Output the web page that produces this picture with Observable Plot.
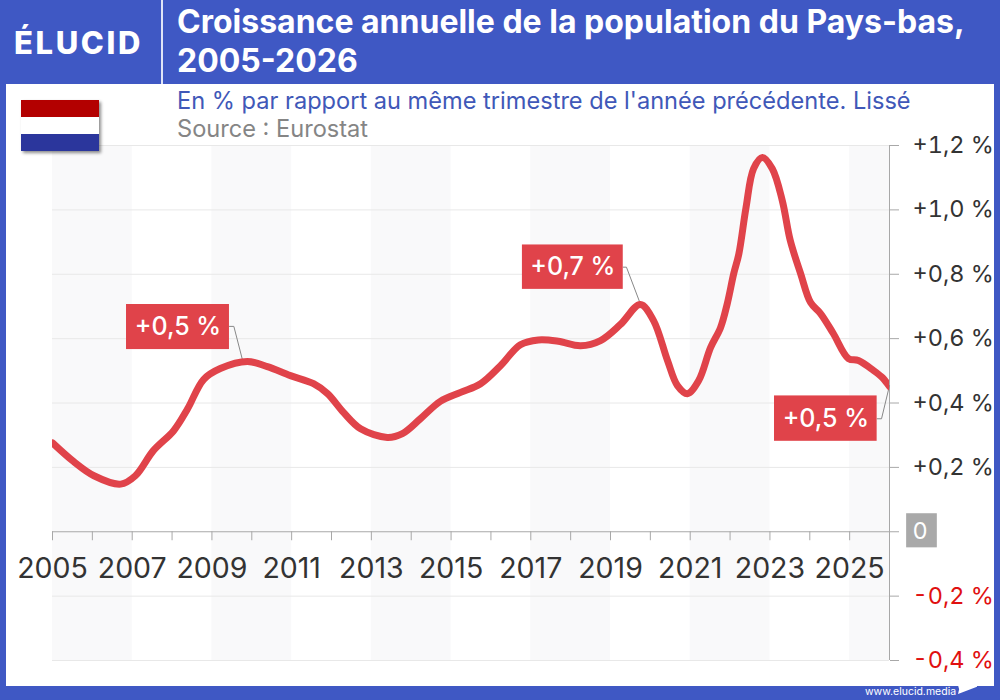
<!DOCTYPE html>
<html lang="fr"><head><meta charset="utf-8">
<script src="https://cdn.jsdelivr.net/npm/d3@7"></script>
<script src="https://cdn.jsdelivr.net/npm/@observablehq/plot@0.6"></script>
<style>
html,body{margin:0;padding:0;width:1000px;height:700px;overflow:hidden;background:#3f58c4;font-family:Inter,"Noto Sans",sans-serif}
#panel{position:absolute;left:6px;top:84px;width:988px;height:602px;background:#fff}
#chart{position:absolute;left:0;top:0}
#chart svg{display:block;background:transparent}
#divider{position:absolute;left:161px;top:0;width:2px;height:84px;background:#dfe4f7}
#logo{position:absolute;left:14px;top:22px;color:#fff;font-weight:800;font-size:31px;letter-spacing:2.6px;line-height:42px}
h1{position:absolute;left:177px;top:2px;margin:0;color:#fff;font-size:32px;font-weight:700;line-height:39px;white-space:pre}
#sub{position:absolute;left:177px;top:85px;color:#4058b8;font-size:23.6px;line-height:32px;white-space:nowrap}
#src{position:absolute;left:177px;top:113px;color:#858585;font-size:23.6px;line-height:32px;white-space:nowrap}
#flag{position:absolute;left:21px;top:100px;width:78px;height:51px;box-shadow:2px 2px 3px rgba(0,0,0,.45);background:linear-gradient(#b30000 0 33.3%,#fff 33.3% 66.6%,#2b369c 66.6%)}
#foot{position:absolute;left:865px;top:685px;color:#fff;font-size:10.5px;line-height:13px;white-space:nowrap}
#mark{position:absolute;left:958px;top:678px;width:19px;height:16px;background:#fff;clip-path:polygon(0 45%,100% 0,100% 55%,0 100%,6% 70%)}
</style></head><body>
<div id="panel"></div>
<div id="chart"></div>
<div id="divider"></div>
<div id="logo">ÉLUCID</div>
<h1>Croissance annuelle de la population du Pays-bas,
2005-2026</h1>
<div id="sub">En % par rapport au même trimestre de l'année précédente. Lissé</div>
<div id="src">Source : Eurostat</div>
<div id="flag"></div>
<div id="foot">www.elucid.media</div>
<div id="mark"></div>
<script>
const lineYears = [2005.00,2005.53,2006.04,2006.71,2007.08,2007.53,2008.04,2008.39,2008.79,2009.21,2009.89,2010.39,2010.97,2011.55,2011.90,2012.30,2012.73,2013.40,2013.78,2014.23,2014.73,2015.24,2015.74,2016.24,2016.74,2017.19,2017.69,2018.25,2018.75,2019.25,2019.75,2020.08,2020.43,2020.68,2020.93,2021.21,2021.51,2021.76,2021.93,2022.09,2022.22,2022.40,2022.59,2022.81,2023.06,2023.31,2023.51,2023.77,2024.02,2024.27,2024.59,2024.97,2025.22,2025.60,2025.82,2026.00];
const lineValues = [0.276,0.218,0.174,0.148,0.174,0.252,0.314,0.382,0.473,0.507,0.529,0.513,0.485,0.460,0.429,0.371,0.320,0.293,0.305,0.351,0.405,0.433,0.460,0.516,0.581,0.596,0.592,0.578,0.594,0.644,0.706,0.656,0.532,0.454,0.429,0.469,0.572,0.634,0.709,0.801,0.863,1.007,1.128,1.163,1.128,1.029,0.905,0.802,0.712,0.678,0.616,0.538,0.532,0.501,0.479,0.451];
const yTicks = [-0.4,-0.2,0,0.2,0.4,0.6,0.8,1.0,1.2];
const tickYears = d3.range(2005,2027);
const labelYears = d3.range(2005,2026,2);
const bandStarts = [2005,2009,2013,2017,2021,2025];
const bandEnds = [2007,2011,2015,2019,2023,2026];
const calloutText = ["+0,5 %","+0,7 %","+0,5 %"];
const calloutX1 = [2006.857,2016.79,2023.115];
const calloutX2 = [2009.44,2019.32,2025.69];
const calloutY1 = [0.566,0.753,0.281];
const calloutY2 = [0.706,0.891,0.422];
const leaderX = [[2009.44,2009.55,2009.76],[2019.32,2019.40,2019.74],[2025.69,2025.80,2026.0]];
const leaderY = [[0.638,0.638,0.537],[0.822,0.822,0.711],[0.351,0.351,0.454]];

const line = lineYears.map((x,i)=>({x,y:lineValues[i]}));
const bands = bandStarts.map((x1,i)=>({x1,x2:bandEnds[i]}));
const callouts = calloutText.map((t,i)=>({t,x1:calloutX1[i],x2:calloutX2[i],y1:calloutY1[i],y2:calloutY2[i]}));
const leaders = leaderX.flatMap((xs,k)=>xs.map((x,i)=>({k,x,y:leaderY[k][i]})));
const fmt = d => d===0 ? "0" : (d>0?"+":"-")+Math.abs(d).toFixed(1).replace(".",",")+" %";

const RED="#e0434a", AX="#a8a8a8", INK="#333";
const plot = Plot.plot({
  width:1000,height:700,marginLeft:52,marginRight:111,marginTop:145,marginBottom:40,
  style:{background:"transparent",fontFamily:"Inter, 'Noto Sans', sans-serif",overflow:"visible"},
  x:{domain:[2005,2026],axis:null},
  y:{domain:[-0.4,1.2],axis:null},
  marks:[
    Plot.rect(bands,{x1:"x1",x2:"x2",y1:-0.4,y2:1.2,fill:"#f9f9fa"}),
    Plot.ruleY(yTicks.filter(d=>d!==0),{stroke:"#e8e8e8",strokeWidth:1}),
    Plot.ruleX([2026],{y1:-0.4,y2:1.2,stroke:AX}),
    Plot.ruleY([0],{stroke:AX}),
    Plot.ruleX(tickYears,{y1:0,y2:-0.028,stroke:AX}),
    Plot.text(labelYears,{x:d=>d,y:0,dy:37,text:d=>String(d),fontSize:28.5,fill:INK}),
    Plot.rect([0],{x1:2026.43,x2:2027.2,y1:-0.05,y2:0.056,fill:"#a9a9a9"}),
    Plot.axisY({anchor:"right",ticks:yTicks,tickFormat:fmt,tickSize:9,tickPadding:14,stroke:AX,fontSize:23.5,
      textStroke:"none",fill:d=>d<0?"#e01010":d===0?"#fff":INK}),
    Plot.line(leaders,{x:"x",y:"y",z:"k",stroke:"#888",strokeWidth:1}),
    Plot.line(line,{x:"x",y:"y",stroke:RED,strokeWidth:7,curve:"catmull-rom",clip:true}),
    Plot.rect(callouts,{x1:"x1",x2:"x2",y1:"y1",y2:"y2",fill:RED}),
    Plot.text(callouts,{x:d=>(d.x1+d.x2)/2,y:d=>(d.y1+d.y2)/2,text:"t",fill:"#fff",fontSize:25,fontWeight:500})
  ]
});
document.getElementById("chart").appendChild(plot);
</script>
</body></html>
